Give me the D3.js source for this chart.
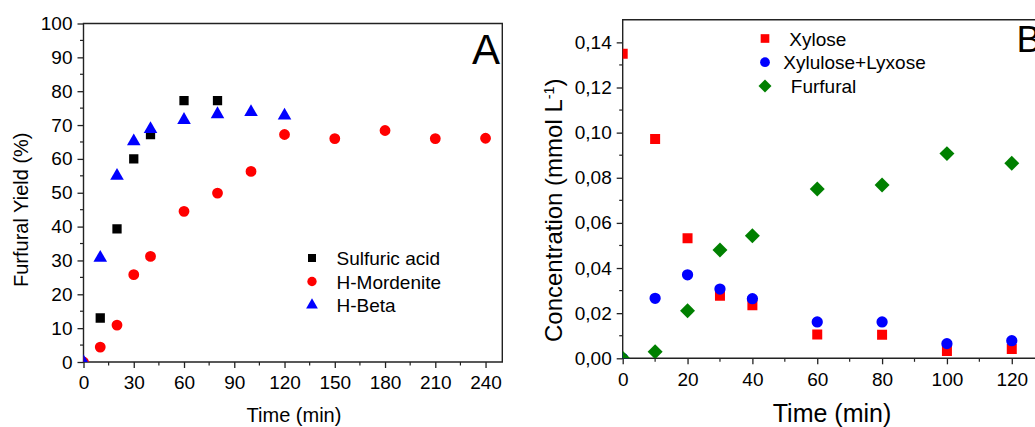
<!DOCTYPE html>
<html>
<head>
<meta charset="utf-8">
<script src="https://cdn.jsdelivr.net/npm/d3@7"></script>
<style>
  body { margin: 0; background: #fff; }
  text { font-family: "Liberation Sans", Arial, sans-serif; fill: #000; }
</style>
</head>
<body>
<div id="chartContainer"></div>
<script>
// panel A: furfural yield vs time
var timeA = [0, 10, 20, 30, 40, 60, 80, 100, 120, 150, 180, 210, 240];
var sulfuric = [null, 13, 39.3, 60, 67.2, 77.2, 77.2];
var mordenite = [0, 4.4, 10.9, 25.8, 31.2, 44.5, 49.9, 56.3, 67.2, 66, 68.4, 66, 66.1];
var hbeta = [0, 30.8, 55, 65.2, 68.8, 71.5, 73.2, 73.8, 72.8];
var ticksXA = [0, 30, 60, 90, 120, 150, 180, 210, 240];
var ticksYA = [0, 10, 20, 30, 40, 50, 60, 70, 80, 90, 100];

// panel B: concentrations vs time
var timeB = [0, 10, 20, 30, 40, 60, 80, 100, 120];
var xylose = [0.135, 0.0972, 0.0532, 0.0277, 0.0235, 0.0106, 0.0104, 0.0032, 0.0041];
var xylulose = [0, 0.0266, 0.037, 0.0307, 0.0264, 0.0161, 0.0161, 0.0065, 0.0078];
var furfural = [0, 0.0029, 0.0211, 0.048, 0.0543, 0.075, 0.0768, 0.0907, 0.0864];
var ticksXB = [0, 20, 40, 60, 80, 100, 120];
var ticksYB = [0, 0.02, 0.04, 0.06, 0.08, 0.10, 0.12, 0.14];

var width = 1035, height = 427;

var svg = d3.select("#chartContainer")
  .append("svg")
  .attr("width", width)
  .attr("height", height);

function pairs(xs, ys) {
  var out = [];
  ys.forEach(function (v, i) { if (v !== null) out.push([xs[i], v]); });
  return out;
}

function drawPanel(p) {
  var g = svg.append("g");
  var x = d3.scaleLinear().domain(p.xDomain).range(p.xRange);
  var y = d3.scaleLinear().domain(p.yDomain).range(p.yRange);

  var x0 = p.xRange[0], x1 = p.xRange[1], y0 = p.yRange[0], y1 = p.yRange[1];

  // minor ticks
  g.selectAll(".mx").data(p.minorX).enter().append("line")
    .attr("x1", function (d) { return x(d); }).attr("x2", function (d) { return x(d); })
    .attr("y1", y0).attr("y2", y0 + 3.5)
    .attr("stroke", "#222").attr("stroke-width", 1.2);
  g.selectAll(".my").data(p.minorY).enter().append("line")
    .attr("y1", function (d) { return y(d); }).attr("y2", function (d) { return y(d); })
    .attr("x1", x0).attr("x2", x0 - 3.5)
    .attr("stroke", "#222").attr("stroke-width", 1.2);

  var xAxis = d3.axisBottom(x).tickValues(p.ticksX).tickSize(6).tickPadding(8)
    .tickFormat(p.fmtX);
  var yAxis = d3.axisLeft(y).tickValues(p.ticksY).tickSize(6).tickPadding(5)
    .tickFormat(p.fmtY);

  var gx = g.append("g").attr("transform", "translate(0," + y0 + ")").call(xAxis);
  var gy = g.append("g").attr("transform", "translate(" + x0 + ",0)").call(yAxis);
  [gx, gy].forEach(function (a) {
    a.select(".domain").remove();
    a.selectAll("line").attr("stroke", "#222").attr("stroke-width", 1.3);
    a.selectAll("text").style("font-size", "19px")
      .style("font-family", '"Liberation Sans", Arial, sans-serif').attr("fill", "#000");
  });

  // frame
  g.append("path")
    .attr("d", "M" + x0 + "," + y0 + "H" + x1 + "V" + y1 + "H" + x0 + "Z")
    .attr("fill", "none").attr("stroke", "#222").attr("stroke-width", 1.4);

  var clipId = "clip" + p.name;
  g.append("clipPath").attr("id", clipId).append("rect")
    .attr("x", x0).attr("y", y1).attr("width", x1 - x0).attr("height", y0 - y1);

  var pts = g.append("g").attr("clip-path", "url(#" + clipId + ")");
  p.series.forEach(function (s) {
    pts.selectAll(null).data(pairs(s.xs, s.ys)).enter().append("path")
      .attr("d", d3.symbol().type(s.type).size(s.size))
      .attr("transform", function (d) {
        return "translate(" + x(d[0]) + "," + y(d[1]) + ")" + (s.rot ? " rotate(45)" : "");
      })
      .attr("fill", s.color);
  });

  // legend
  var lg = g.append("g");
  p.series.forEach(function (s, i) {
    var ly = p.legend.y + i * p.legend.step;
    lg.append("path")
      .attr("d", d3.symbol().type(s.type).size(s.size * 0.75))
      .attr("transform", "translate(" + p.legend.x + "," + ly + ")" + (s.rot ? " rotate(45)" : ""))
      .attr("fill", s.color);
    lg.append("text")
      .attr("x", p.legend.tx + (s.dx || 0)).attr("y", ly + 7)
      .style("font-size", "19px")
      .text(s.name);
  });

  // panel letter
  g.append("text").attr("x", p.letter.x).attr("y", p.letter.y)
    .attr("text-anchor", p.letter.anchor)
    .style("font-size", p.letter.size + "px").text(p.name);

  // axis titles
  g.append("text").attr("x", p.xTitle.x).attr("y", p.xTitle.y)
    .attr("text-anchor", "middle").style("font-size", p.xTitle.size + "px")
    .text("Time (min)");

  var yt = g.append("text")
    .attr("transform", "translate(" + p.yTitle.x + "," + p.yTitle.y + ") rotate(-90)")
    .attr("text-anchor", "start").style("font-size", p.yTitle.size + "px");
  p.yTitle.parts.forEach(function (t) {
    var ts = yt.append("tspan").text(t.text);
    if (t.sup) ts.attr("baseline-shift", "super").style("font-size", (p.yTitle.size * 0.6) + "px");
  });
}

var comma = function (d) { return d3.format(".2f")(d).replace(".", ","); };

drawPanel({
  name: "A",
  xDomain: [0, 250], xRange: [83.5, 502.3],
  yDomain: [0, 100], yRange: [362, 23.5],
  ticksX: ticksXA, ticksY: ticksYA,
  minorX: d3.range(15, 250, 30), minorY: d3.range(5, 100, 10),
  fmtX: d3.format("d"), fmtY: d3.format("d"),
  series: [
    { name: "Sulfuric acid", xs: timeA, ys: sulfuric, type: d3.symbolSquare, size: 86, color: "#000" },
    { name: "H-Mordenite", xs: timeA, ys: mordenite, type: d3.symbolCircle, size: 92, color: "#ff0000" },
    { name: "H-Beta", xs: timeA, ys: hbeta, type: d3.symbolTriangle, size: 80, color: "#0000ff" }
  ],
  legend: { x: 312, y: 258, step: 23.5, tx: 336.5 },
  letter: { x: 500, y: 63.5, anchor: "end", size: 42 },
  xTitle: { x: 294, y: 422, size: 20 },
  yTitle: { x: 27.5, y: 287, size: 20, parts: [{ text: "Furfural Yield (%)" }] }
});

drawPanel({
  name: "B",
  xDomain: [0, 130], xRange: [622.7, 1044.2],
  yDomain: [0, 0.15], yRange: [358.3, 19.8],
  ticksX: ticksXB, ticksY: ticksYB,
  minorX: d3.range(10, 130, 20), minorY: d3.range(0.01, 0.15, 0.02),
  fmtX: d3.format("d"), fmtY: comma,
  series: [
    { name: "Xylose", xs: timeB, ys: xylose, type: d3.symbolSquare, size: 100, color: "#ff0000", dx: 0 },
    { name: "Xylulose+Lyxose", xs: timeB, ys: xylulose, type: d3.symbolCircle, size: 100, color: "#0000ff", dx: -6 },
    { name: "Furfural", xs: timeB, ys: furfural, type: d3.symbolSquare, size: 112, color: "#008000", rot: true, dx: 1.5 }
  ],
  legend: { x: 765, y: 38.5, step: 23.7, tx: 789.3 },
  letter: { x: 1016.5, y: 52, anchor: "start", size: 37 },
  xTitle: { x: 832, y: 421.5, size: 25 },
  yTitle: { x: 561.5, y: 342, size: 24, parts: [{ text: "Concentration (mmol L" }, { text: "-1", sup: true }, { text: ")" }] }
});
</script>
</body>
</html>
